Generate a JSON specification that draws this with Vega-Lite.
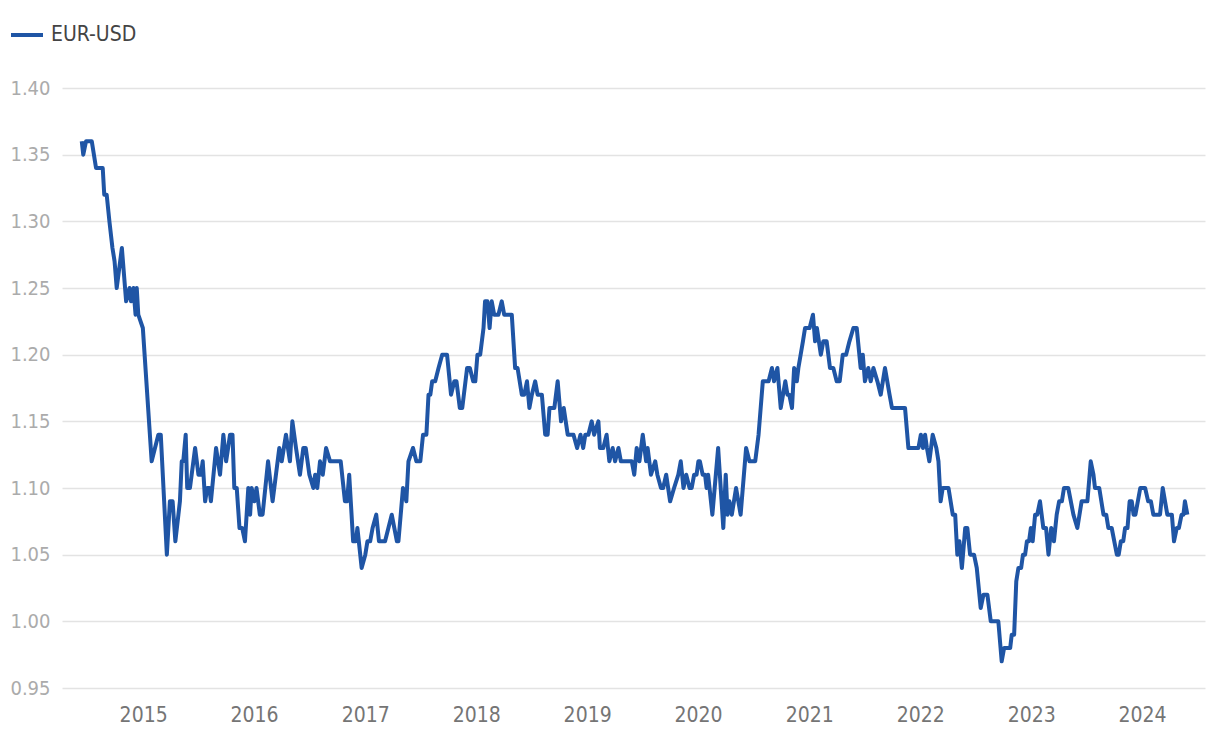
{
  "$schema": "https://vega.github.io/schema/vega-lite/v6.json",
  "width": 1143,
  "height": 600,
  "autosize": {"type": "none"},
  "padding": {"left": 62, "top": 88, "right": 15, "bottom": 54},
  "background": "white",
  "config": {
    "font": "'DejaVu Sans Condensed', sans-serif",
    "view": {"stroke": null}
  },
  "data": {
    "values": [
      {"date": "2014-06-13", "rate": 1.36}, {"date": "2014-06-18", "rate": 1.35}, {"date": "2014-06-27", "rate": 1.36},
      {"date": "2014-07-16", "rate": 1.36}, {"date": "2014-07-30", "rate": 1.34}, {"date": "2014-08-21", "rate": 1.34},
      {"date": "2014-08-26", "rate": 1.32}, {"date": "2014-09-03", "rate": 1.32}, {"date": "2014-09-12", "rate": 1.30},
      {"date": "2014-09-22", "rate": 1.28}, {"date": "2014-09-29", "rate": 1.27}, {"date": "2014-10-06", "rate": 1.25},
      {"date": "2014-10-23", "rate": 1.28}, {"date": "2014-11-06", "rate": 1.24}, {"date": "2014-11-17", "rate": 1.25},
      {"date": "2014-11-22", "rate": 1.24}, {"date": "2014-11-30", "rate": 1.25}, {"date": "2014-12-07", "rate": 1.23},
      {"date": "2014-12-11", "rate": 1.25}, {"date": "2014-12-16", "rate": 1.23}, {"date": "2014-12-31", "rate": 1.22},
      {"date": "2015-01-29", "rate": 1.12}, {"date": "2015-02-09", "rate": 1.13}, {"date": "2015-02-20", "rate": 1.14},
      {"date": "2015-02-28", "rate": 1.14}, {"date": "2015-03-20", "rate": 1.05}, {"date": "2015-03-30", "rate": 1.09},
      {"date": "2015-04-08", "rate": 1.09}, {"date": "2015-04-17", "rate": 1.06}, {"date": "2015-04-27", "rate": 1.08},
      {"date": "2015-05-02", "rate": 1.09}, {"date": "2015-05-08", "rate": 1.12}, {"date": "2015-05-13", "rate": 1.12},
      {"date": "2015-05-21", "rate": 1.14}, {"date": "2015-05-26", "rate": 1.10}, {"date": "2015-06-04", "rate": 1.10},
      {"date": "2015-06-21", "rate": 1.13}, {"date": "2015-07-02", "rate": 1.11}, {"date": "2015-07-10", "rate": 1.11},
      {"date": "2015-07-16", "rate": 1.12}, {"date": "2015-07-24", "rate": 1.09}, {"date": "2015-07-31", "rate": 1.10},
      {"date": "2015-08-07", "rate": 1.10}, {"date": "2015-08-12", "rate": 1.09}, {"date": "2015-08-29", "rate": 1.13},
      {"date": "2015-09-11", "rate": 1.11}, {"date": "2015-09-22", "rate": 1.14}, {"date": "2015-10-01", "rate": 1.12},
      {"date": "2015-10-14", "rate": 1.14}, {"date": "2015-10-22", "rate": 1.14}, {"date": "2015-10-28", "rate": 1.10},
      {"date": "2015-11-05", "rate": 1.10}, {"date": "2015-11-14", "rate": 1.07}, {"date": "2015-11-23", "rate": 1.07},
      {"date": "2015-12-02", "rate": 1.06}, {"date": "2015-12-13", "rate": 1.10}, {"date": "2015-12-19", "rate": 1.08},
      {"date": "2015-12-24", "rate": 1.10}, {"date": "2016-01-02", "rate": 1.09}, {"date": "2016-01-09", "rate": 1.10},
      {"date": "2016-01-20", "rate": 1.08}, {"date": "2016-01-29", "rate": 1.08}, {"date": "2016-02-16", "rate": 1.12},
      {"date": "2016-03-02", "rate": 1.09}, {"date": "2016-03-24", "rate": 1.13}, {"date": "2016-04-01", "rate": 1.12},
      {"date": "2016-04-15", "rate": 1.14}, {"date": "2016-04-28", "rate": 1.12}, {"date": "2016-05-06", "rate": 1.15},
      {"date": "2016-05-18", "rate": 1.13}, {"date": "2016-05-31", "rate": 1.11}, {"date": "2016-06-11", "rate": 1.13},
      {"date": "2016-06-19", "rate": 1.13}, {"date": "2016-07-01", "rate": 1.11}, {"date": "2016-07-14", "rate": 1.10},
      {"date": "2016-07-20", "rate": 1.11}, {"date": "2016-07-27", "rate": 1.10}, {"date": "2016-08-05", "rate": 1.12},
      {"date": "2016-08-14", "rate": 1.11}, {"date": "2016-08-25", "rate": 1.13}, {"date": "2016-09-07", "rate": 1.12},
      {"date": "2016-10-12", "rate": 1.12}, {"date": "2016-10-26", "rate": 1.09}, {"date": "2016-11-02", "rate": 1.09},
      {"date": "2016-11-09", "rate": 1.11}, {"date": "2016-11-22", "rate": 1.06}, {"date": "2016-12-01", "rate": 1.06},
      {"date": "2016-12-06", "rate": 1.07}, {"date": "2016-12-20", "rate": 1.04}, {"date": "2017-01-01", "rate": 1.05},
      {"date": "2017-01-08", "rate": 1.06}, {"date": "2017-01-17", "rate": 1.06}, {"date": "2017-01-25", "rate": 1.07},
      {"date": "2017-02-06", "rate": 1.08}, {"date": "2017-02-15", "rate": 1.06}, {"date": "2017-03-07", "rate": 1.06},
      {"date": "2017-03-18", "rate": 1.07}, {"date": "2017-03-29", "rate": 1.08}, {"date": "2017-04-15", "rate": 1.06},
      {"date": "2017-04-20", "rate": 1.06}, {"date": "2017-05-05", "rate": 1.10}, {"date": "2017-05-16", "rate": 1.09},
      {"date": "2017-05-23", "rate": 1.12}, {"date": "2017-06-07", "rate": 1.13}, {"date": "2017-06-18", "rate": 1.12},
      {"date": "2017-07-01", "rate": 1.12}, {"date": "2017-07-10", "rate": 1.14}, {"date": "2017-07-21", "rate": 1.14},
      {"date": "2017-07-28", "rate": 1.17}, {"date": "2017-08-03", "rate": 1.17}, {"date": "2017-08-09", "rate": 1.18},
      {"date": "2017-08-19", "rate": 1.18}, {"date": "2017-08-30", "rate": 1.19}, {"date": "2017-09-11", "rate": 1.20},
      {"date": "2017-09-27", "rate": 1.20}, {"date": "2017-10-10", "rate": 1.17}, {"date": "2017-10-21", "rate": 1.18},
      {"date": "2017-10-28", "rate": 1.18}, {"date": "2017-11-08", "rate": 1.16}, {"date": "2017-11-16", "rate": 1.16},
      {"date": "2017-12-02", "rate": 1.19}, {"date": "2017-12-11", "rate": 1.19}, {"date": "2017-12-22", "rate": 1.18},
      {"date": "2017-12-29", "rate": 1.18}, {"date": "2018-01-05", "rate": 1.20}, {"date": "2018-01-14", "rate": 1.20},
      {"date": "2018-01-25", "rate": 1.22}, {"date": "2018-01-30", "rate": 1.24}, {"date": "2018-02-07", "rate": 1.24},
      {"date": "2018-02-14", "rate": 1.22}, {"date": "2018-02-21", "rate": 1.24}, {"date": "2018-03-01", "rate": 1.23},
      {"date": "2018-03-15", "rate": 1.23}, {"date": "2018-03-26", "rate": 1.24}, {"date": "2018-04-03", "rate": 1.23},
      {"date": "2018-04-28", "rate": 1.23}, {"date": "2018-05-09", "rate": 1.19}, {"date": "2018-05-17", "rate": 1.19},
      {"date": "2018-05-31", "rate": 1.17}, {"date": "2018-06-08", "rate": 1.17}, {"date": "2018-06-17", "rate": 1.18},
      {"date": "2018-06-25", "rate": 1.16}, {"date": "2018-07-03", "rate": 1.17}, {"date": "2018-07-14", "rate": 1.18},
      {"date": "2018-07-22", "rate": 1.17}, {"date": "2018-08-05", "rate": 1.17}, {"date": "2018-08-16", "rate": 1.14},
      {"date": "2018-08-24", "rate": 1.14}, {"date": "2018-08-30", "rate": 1.16}, {"date": "2018-09-15", "rate": 1.16},
      {"date": "2018-09-26", "rate": 1.18}, {"date": "2018-10-07", "rate": 1.15}, {"date": "2018-10-16", "rate": 1.16},
      {"date": "2018-10-29", "rate": 1.14}, {"date": "2018-11-17", "rate": 1.14}, {"date": "2018-11-29", "rate": 1.13},
      {"date": "2018-12-10", "rate": 1.14}, {"date": "2018-12-19", "rate": 1.13}, {"date": "2018-12-26", "rate": 1.14},
      {"date": "2019-01-05", "rate": 1.14}, {"date": "2019-01-16", "rate": 1.15}, {"date": "2019-01-24", "rate": 1.14},
      {"date": "2019-02-07", "rate": 1.15}, {"date": "2019-02-12", "rate": 1.13}, {"date": "2019-02-23", "rate": 1.13},
      {"date": "2019-03-06", "rate": 1.14}, {"date": "2019-03-15", "rate": 1.12}, {"date": "2019-03-26", "rate": 1.13},
      {"date": "2019-04-03", "rate": 1.12}, {"date": "2019-04-14", "rate": 1.13}, {"date": "2019-04-22", "rate": 1.12},
      {"date": "2019-05-28", "rate": 1.12}, {"date": "2019-06-05", "rate": 1.11}, {"date": "2019-06-13", "rate": 1.13},
      {"date": "2019-06-22", "rate": 1.12}, {"date": "2019-07-03", "rate": 1.14}, {"date": "2019-07-14", "rate": 1.12},
      {"date": "2019-07-19", "rate": 1.13}, {"date": "2019-07-30", "rate": 1.11}, {"date": "2019-08-13", "rate": 1.12},
      {"date": "2019-08-20", "rate": 1.11}, {"date": "2019-09-01", "rate": 1.10}, {"date": "2019-09-08", "rate": 1.10},
      {"date": "2019-09-18", "rate": 1.11}, {"date": "2019-10-01", "rate": 1.09}, {"date": "2019-10-14", "rate": 1.10},
      {"date": "2019-10-28", "rate": 1.11}, {"date": "2019-11-05", "rate": 1.12}, {"date": "2019-11-14", "rate": 1.10},
      {"date": "2019-11-23", "rate": 1.11}, {"date": "2019-12-04", "rate": 1.10}, {"date": "2019-12-11", "rate": 1.10},
      {"date": "2019-12-19", "rate": 1.11}, {"date": "2019-12-27", "rate": 1.11}, {"date": "2020-01-02", "rate": 1.12},
      {"date": "2020-01-07", "rate": 1.12}, {"date": "2020-01-16", "rate": 1.11}, {"date": "2020-01-24", "rate": 1.11},
      {"date": "2020-01-29", "rate": 1.10}, {"date": "2020-02-03", "rate": 1.11}, {"date": "2020-02-17", "rate": 1.08},
      {"date": "2020-03-07", "rate": 1.13}, {"date": "2020-03-24", "rate": 1.07}, {"date": "2020-04-01", "rate": 1.11},
      {"date": "2020-04-07", "rate": 1.08}, {"date": "2020-04-13", "rate": 1.09}, {"date": "2020-04-21", "rate": 1.08},
      {"date": "2020-04-28", "rate": 1.09}, {"date": "2020-05-05", "rate": 1.10}, {"date": "2020-05-20", "rate": 1.08},
      {"date": "2020-06-07", "rate": 1.13}, {"date": "2020-06-18", "rate": 1.12}, {"date": "2020-07-07", "rate": 1.12},
      {"date": "2020-07-18", "rate": 1.14}, {"date": "2020-08-01", "rate": 1.18}, {"date": "2020-08-20", "rate": 1.18},
      {"date": "2020-08-31", "rate": 1.19}, {"date": "2020-09-07", "rate": 1.18}, {"date": "2020-09-18", "rate": 1.19},
      {"date": "2020-09-29", "rate": 1.16}, {"date": "2020-10-14", "rate": 1.18}, {"date": "2020-10-21", "rate": 1.17},
      {"date": "2020-10-27", "rate": 1.17}, {"date": "2020-11-05", "rate": 1.16}, {"date": "2020-11-12", "rate": 1.19},
      {"date": "2020-11-21", "rate": 1.18}, {"date": "2020-11-26", "rate": 1.19}, {"date": "2020-12-11", "rate": 1.21},
      {"date": "2020-12-18", "rate": 1.22}, {"date": "2021-01-02", "rate": 1.22}, {"date": "2021-01-13", "rate": 1.23},
      {"date": "2021-01-20", "rate": 1.21}, {"date": "2021-01-26", "rate": 1.22}, {"date": "2021-02-08", "rate": 1.20},
      {"date": "2021-02-16", "rate": 1.21}, {"date": "2021-02-27", "rate": 1.21}, {"date": "2021-03-10", "rate": 1.19},
      {"date": "2021-03-21", "rate": 1.19}, {"date": "2021-04-01", "rate": 1.18}, {"date": "2021-04-11", "rate": 1.18},
      {"date": "2021-04-21", "rate": 1.20}, {"date": "2021-05-02", "rate": 1.20}, {"date": "2021-05-13", "rate": 1.21},
      {"date": "2021-05-26", "rate": 1.22}, {"date": "2021-06-06", "rate": 1.22}, {"date": "2021-06-19", "rate": 1.19},
      {"date": "2021-06-26", "rate": 1.20}, {"date": "2021-07-03", "rate": 1.18}, {"date": "2021-07-14", "rate": 1.19},
      {"date": "2021-07-22", "rate": 1.18}, {"date": "2021-07-31", "rate": 1.19}, {"date": "2021-08-13", "rate": 1.18},
      {"date": "2021-08-24", "rate": 1.17}, {"date": "2021-09-07", "rate": 1.19}, {"date": "2021-09-22", "rate": 1.17},
      {"date": "2021-09-30", "rate": 1.16}, {"date": "2021-11-12", "rate": 1.16}, {"date": "2021-11-23", "rate": 1.13},
      {"date": "2021-12-26", "rate": 1.13}, {"date": "2022-01-03", "rate": 1.14}, {"date": "2022-01-10", "rate": 1.13},
      {"date": "2022-01-17", "rate": 1.14}, {"date": "2022-01-23", "rate": 1.13}, {"date": "2022-01-31", "rate": 1.12},
      {"date": "2022-02-11", "rate": 1.14}, {"date": "2022-02-23", "rate": 1.13}, {"date": "2022-03-02", "rate": 1.12},
      {"date": "2022-03-09", "rate": 1.09}, {"date": "2022-03-16", "rate": 1.10}, {"date": "2022-04-04", "rate": 1.10},
      {"date": "2022-04-18", "rate": 1.08}, {"date": "2022-04-26", "rate": 1.08}, {"date": "2022-05-03", "rate": 1.05},
      {"date": "2022-05-10", "rate": 1.06}, {"date": "2022-05-18", "rate": 1.04}, {"date": "2022-05-29", "rate": 1.07},
      {"date": "2022-06-05", "rate": 1.07}, {"date": "2022-06-14", "rate": 1.05}, {"date": "2022-06-27", "rate": 1.05},
      {"date": "2022-07-06", "rate": 1.04}, {"date": "2022-07-19", "rate": 1.01}, {"date": "2022-07-28", "rate": 1.02},
      {"date": "2022-08-10", "rate": 1.02}, {"date": "2022-08-21", "rate": 1.00}, {"date": "2022-09-15", "rate": 1.00},
      {"date": "2022-09-26", "rate": 0.97}, {"date": "2022-10-04", "rate": 0.98}, {"date": "2022-10-24", "rate": 0.98},
      {"date": "2022-10-29", "rate": 0.99}, {"date": "2022-11-06", "rate": 0.99}, {"date": "2022-11-13", "rate": 1.03},
      {"date": "2022-11-20", "rate": 1.04}, {"date": "2022-11-29", "rate": 1.04}, {"date": "2022-12-05", "rate": 1.05},
      {"date": "2022-12-12", "rate": 1.05}, {"date": "2022-12-18", "rate": 1.06}, {"date": "2022-12-25", "rate": 1.06},
      {"date": "2022-12-31", "rate": 1.07}, {"date": "2023-01-06", "rate": 1.06}, {"date": "2023-01-14", "rate": 1.08},
      {"date": "2023-01-21", "rate": 1.08}, {"date": "2023-01-30", "rate": 1.09}, {"date": "2023-02-10", "rate": 1.07},
      {"date": "2023-02-19", "rate": 1.07}, {"date": "2023-02-27", "rate": 1.05}, {"date": "2023-03-08", "rate": 1.07},
      {"date": "2023-03-17", "rate": 1.06}, {"date": "2023-03-26", "rate": 1.08}, {"date": "2023-04-03", "rate": 1.09},
      {"date": "2023-04-12", "rate": 1.09}, {"date": "2023-04-19", "rate": 1.10}, {"date": "2023-05-03", "rate": 1.10},
      {"date": "2023-05-20", "rate": 1.08}, {"date": "2023-06-02", "rate": 1.07}, {"date": "2023-06-16", "rate": 1.09},
      {"date": "2023-07-05", "rate": 1.09}, {"date": "2023-07-16", "rate": 1.12}, {"date": "2023-07-25", "rate": 1.11},
      {"date": "2023-07-30", "rate": 1.10}, {"date": "2023-08-13", "rate": 1.10}, {"date": "2023-08-27", "rate": 1.08},
      {"date": "2023-09-05", "rate": 1.08}, {"date": "2023-09-12", "rate": 1.07}, {"date": "2023-09-23", "rate": 1.07},
      {"date": "2023-10-10", "rate": 1.05}, {"date": "2023-10-16", "rate": 1.05}, {"date": "2023-10-23", "rate": 1.06},
      {"date": "2023-10-31", "rate": 1.06}, {"date": "2023-11-06", "rate": 1.07}, {"date": "2023-11-14", "rate": 1.07},
      {"date": "2023-11-21", "rate": 1.09}, {"date": "2023-11-28", "rate": 1.09}, {"date": "2023-12-04", "rate": 1.08},
      {"date": "2023-12-10", "rate": 1.08}, {"date": "2023-12-26", "rate": 1.10}, {"date": "2024-01-11", "rate": 1.10},
      {"date": "2024-01-21", "rate": 1.09}, {"date": "2024-01-30", "rate": 1.09}, {"date": "2024-02-07", "rate": 1.08},
      {"date": "2024-02-29", "rate": 1.08}, {"date": "2024-03-09", "rate": 1.10}, {"date": "2024-03-24", "rate": 1.08},
      {"date": "2024-04-08", "rate": 1.08}, {"date": "2024-04-15", "rate": 1.06}, {"date": "2024-04-24", "rate": 1.07},
      {"date": "2024-05-01", "rate": 1.07}, {"date": "2024-05-10", "rate": 1.08}, {"date": "2024-05-16", "rate": 1.08},
      {"date": "2024-05-21", "rate": 1.09}, {"date": "2024-05-29", "rate": 1.08}
    ]
  },
  "mark": {"type": "line", "strokeWidth": 4, "strokeJoin": "round"},
  "encoding": {
    "x": {
      "field": "date",
      "type": "temporal",
      "title": null,
      "scale": {
        "type": "utc",
        "domain": [
          {"year": 2014, "month": 4, "date": 9, "utc": true},
          {"year": 2024, "month": 7, "date": 26, "utc": true}
        ]
      },
      "axis": {
        "format": "%Y",
        "tickCount": {"interval": "year", "step": 1},
        "grid": false,
        "ticks": false,
        "domain": false,
        "labelFontSize": 21,
        "labelColor": "#757575",
        "labelPadding": 16,
        "labelFlush": false,
        "labelOverlap": false
      }
    },
    "y": {
      "field": "rate",
      "type": "quantitative",
      "title": null,
      "scale": {"domain": [0.95, 1.4], "nice": false, "zero": false},
      "axis": {
        "values": [0.95, 1.0, 1.05, 1.1, 1.15, 1.2, 1.25, 1.3, 1.35, 1.4],
        "format": ".2f",
        "grid": true,
        "gridColor": "#e3e3e3",
        "gridWidth": 1.5,
        "ticks": false,
        "domain": false,
        "labelFontSize": 20,
        "labelColor": "#ababab",
        "labelPadding": 12
      }
    },
    "color": {
      "datum": "EUR-USD",
      "scale": {"range": ["#1f55a5"]},
      "legend": {
        "title": null,
        "orient": "none",
        "legendX": -53,
        "legendY": -71,
        "padding": 0,
        "symbolType": "stroke",
        "symbolSize": 1024,
        "symbolStrokeWidth": 4,
        "labelFontSize": 21,
        "labelColor": "#444444",
        "labelOffset": 6
      }
    }
  }
}
